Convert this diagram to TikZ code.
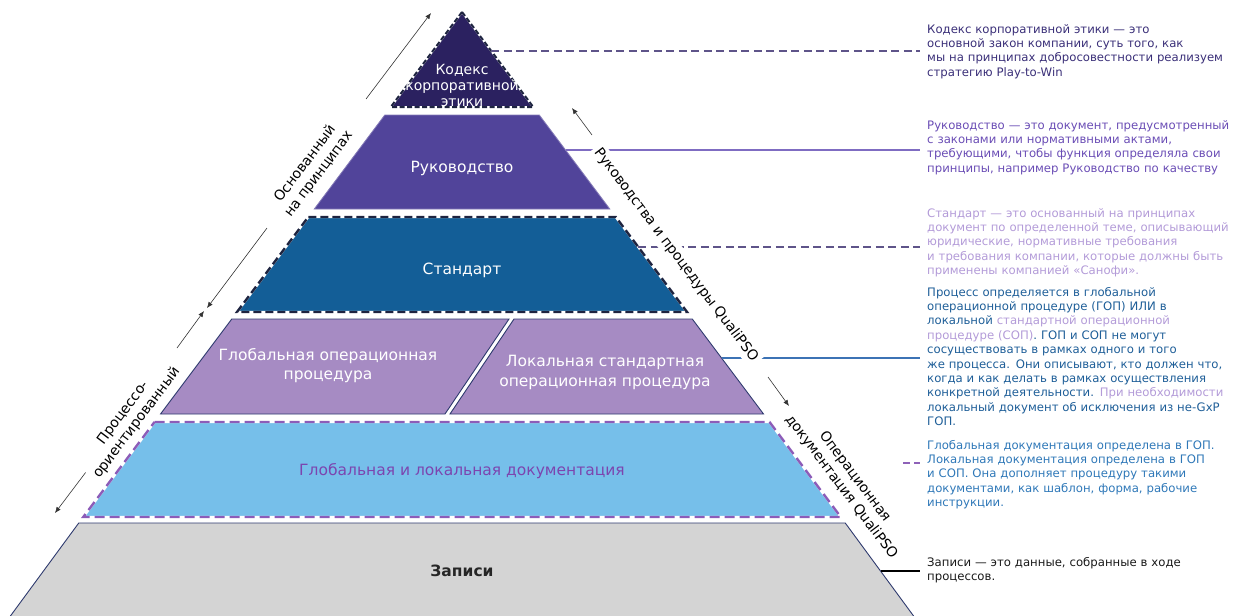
\documentclass[tikz,border=0pt]{standalone}
\usepackage{fontspec}
\setmainfont{DejaVu Sans}
\usetikzlibrary{arrows.meta}

% layer fills and edges
\definecolor{ethfill}{HTML}{2B2160}
\definecolor{guidefill}{HTML}{51449A}
\definecolor{stdfill}{HTML}{135E97}
\definecolor{procfill}{HTML}{A68BC3}
\definecolor{docfill}{HTML}{76BFEA}
\definecolor{recfill}{HTML}{D4D4D4}
\definecolor{edgedark}{HTML}{1E2440}
\definecolor{edgenavy}{HTML}{2E3A6E}
\definecolor{edgepurple}{HTML}{8C5CB8}
% text colours
\definecolor{txtA}{HTML}{3A2F78}
\definecolor{txtB}{HTML}{6A4DB5}
\definecolor{txtC}{HTML}{B39BD8}
\definecolor{txtD}{HTML}{1E5E98}
\definecolor{txtE}{HTML}{2F78B8}
\definecolor{doctxt}{HTML}{7C45AF}
% connector colours
\definecolor{lnA}{HTML}{5E5489}
\definecolor{lnB}{HTML}{7F6CC2}
\definecolor{lnD}{HTML}{3C73B5}
\definecolor{lnE}{HTML}{8E62B8}

\begin{document}
\begin{tikzpicture}[x=1pt,y=-1pt,
  layertext/.style={align=center,text=white,font=\fontsize{15.5}{19}\selectfont,inner sep=0pt},
  sidetext/.style={align=center,font=\fontsize{14}{17}\selectfont,fill=white,inner sep=3pt},
  note/.style={anchor=base west,inner sep=0pt,text width=330pt,align=left,
               font=\fontsize{11.7}{14.4}\selectfont},
  sidearrow/.style={draw=black!80,line width=0.6pt,-{Latex[length=6pt,width=5pt]}},
  dashconn/.style={line width=2.8pt,dash pattern=on 8pt off 4.5pt},
  solidconn/.style={line width=2.4pt}]
\useasboundingbox (0,0) rectangle (1235,616);

% ---------- pyramid layers ----------
% code of ethics (apex)
\path[fill=ethfill,postaction={draw=white,line width=2pt},
      postaction={draw=edgedark,line width=2pt,dash pattern=on 5pt off 2.5pt}]
  (462,12) -- (533.25,107) -- (390.75,107) -- cycle;
% guidance
\path[fill=guidefill,draw=guidefill!70!white,line width=0.8pt]
  (384.75,115) -- (539.25,115) -- (609.75,209) -- (314.25,209) -- cycle;
% standard
\path[fill=stdfill,postaction={draw=white,line width=2.4pt},
      postaction={draw=edgedark,line width=2.4pt,dash pattern=on 8pt off 4pt}]
  (308.25,217) -- (615.75,217) -- (687,312) -- (237,312) -- cycle;
% global / local operating procedures
\path[fill=procfill,draw=edgenavy,line width=0.9pt]
  (231.75,319) -- (509,319) -- (445,414) -- (160.5,414) -- cycle;
\path[fill=procfill,draw=edgenavy,line width=0.9pt]
  (514,319) -- (692.25,319) -- (763.5,414) -- (450,414) -- cycle;
% documentation
\path[fill=docfill,postaction={draw=white,line width=2.4pt},
      postaction={draw=edgepurple,line width=2.4pt,dash pattern=on 10pt off 5pt}]
  (154.5,422) -- (769.5,422) -- (840.75,517) -- (83.25,517) -- cycle;
% records
\path[fill=recfill,draw=edgenavy,line width=0.9pt]
  (78.75,523) -- (845.25,523) -- (918,622) -- (6,622) -- cycle;

% ---------- layer titles ----------
\node[layertext,font=\fontsize{14}{16}\selectfont] (eth) at (462,85) {Кодекс\\корпоративной\\этики};
\node[layertext] (guide) at (462,168) {Руководство};
\node[layertext] (std) at (462,270) {Стандарт};
\node[layertext] (gop) at (328,366) {Глобальная операционная\\процедура};
\node[layertext,font=\fontsize{15.5}{20}\selectfont] (sop) at (605,372) {Локальная стандартная\\операционная процедура};
\node[layertext,text=doctxt] (doc) at (462,471) {Глобальная и локальная документация};
\node[layertext,text=black!85,font=\fontsize{15.5}{19}\selectfont\bfseries] (rec) at (462,571) {Записи};

% ---------- explanatory notes ----------
\node[note,text=txtA] (n1) at (927,33) {Кодекс корпоративной этики — это\\
основной закон компании, суть того, как\\
мы на принципах добросовестности реализуем\\
стратегию Play-to-Win};
\node[note,text=txtB] (n2) at (927,129) {Руководство — это документ, предусмотренный\\
с законами или нормативными актами,\\
требующими, чтобы функция определяла свои\\
принципы, например Руководство по качеству};
\node[note,text=txtC] (n3) at (927,217) {Стандарт — это основанный на принципах\\
документ по определенной теме, описывающий\\
юридические, нормативные требования\\
и требования компании, которые должны быть\\
применены компанией «Санофи».};
\node[note,text=txtD] (n4) at (927,296) {Процесс определяется в глобальной\\
операционной процедуре (ГОП) ИЛИ в\\
локальной {\color{txtC}стандартной операционной}\\
{\color{txtC}процедуре (СОП)}. ГОП и СОП не могут\\
сосуществовать в рамках одного и того\\
же процесса. Они описывают, кто должен что,\\
когда и как делать в рамках осуществления\\
конкретной деятельности. {\color{txtC}При необходимости}\\
локальный документ об исключения из не-GxP\\
ГОП.};
\node[note,text=txtE] (n5) at (927,449) {Глобальная документация определена в ГОП.\\
Локальная документация определена в ГОП\\
и СОП. Она дополняет процедуру такими\\
документами, как шаблон, форма, рабочие\\
инструкции.};
\node[note,text=black!90] (n6) at (927,566) {Записи — это данные, собранные в ходе\\
процессов.};

% ---------- connectors from layers to notes ----------
\coordinate (k1) at (491.25,51);
\coordinate (k2) at (565.5,150);
\coordinate (k3) at (638.25,247);
\coordinate (k4) at (721.5,358);
\coordinate (k5) at (903,463);
\coordinate (k6) at (881.25,571);
\draw[lnA,dashconn] (k1) -- ([xshift=-7pt]n1.west |- k1);
\draw[lnB,solidconn] (k2) -- ([xshift=-7pt]n2.west |- k2);
\draw[lnA,dashconn] (k3) -- ([xshift=-7pt]n3.west |- k3);
\draw[lnD,solidconn] (k4) -- ([xshift=-7pt]n4.west |- k4);
\draw[lnE,line width=2.6pt,dash pattern=on 7pt off 4pt] (k5) -- ([xshift=-7pt]n5.west |- k5);
\draw[black,line width=2.8pt] (k6) -- ([xshift=-7pt]n6.west |- k6);

% ---------- side arrows ----------
\coordinate (a1s) at (366,99);   \coordinate (a1e) at (431,13);
\coordinate (a2s) at (267,228);  \coordinate (a2e) at (207,308);
\coordinate (a3s) at (177,348);  \coordinate (a3e) at (204,311);
\coordinate (a4s) at (89,468);   \coordinate (a4e) at (55,513);
\coordinate (r1s) at (592,135);  \coordinate (r1e) at (572,108);
\coordinate (r2s) at (768,377);  \coordinate (r2e) at (789,406);
\draw[sidearrow] (a1s) -- (a1e);
\draw[sidearrow] (a2s) -- (a2e);
\draw[sidearrow] (a3s) -- (a3e);
\draw[sidearrow] (a4s) -- (a4e);
\draw[sidearrow] (r1s) -- (r1e);
\draw[sidearrow] (r2s) -- (r2e);

% ---------- side labels ----------
\node[sidetext,rotate=53] (lp) at (312,169) {Основанный\\на принципах};
\node[sidetext,rotate=53] (lo) at (130,418) {Процессо-\\ориентированный};
\node[sidetext,rotate=-53] (rg) at (676,255) {Руководства и процедуры QualiPSO};
\node[sidetext,rotate=-53,fill=none] (rd) at (848,482) {Операционная\\документация QualiPSO};
\end{tikzpicture}
\end{document}
